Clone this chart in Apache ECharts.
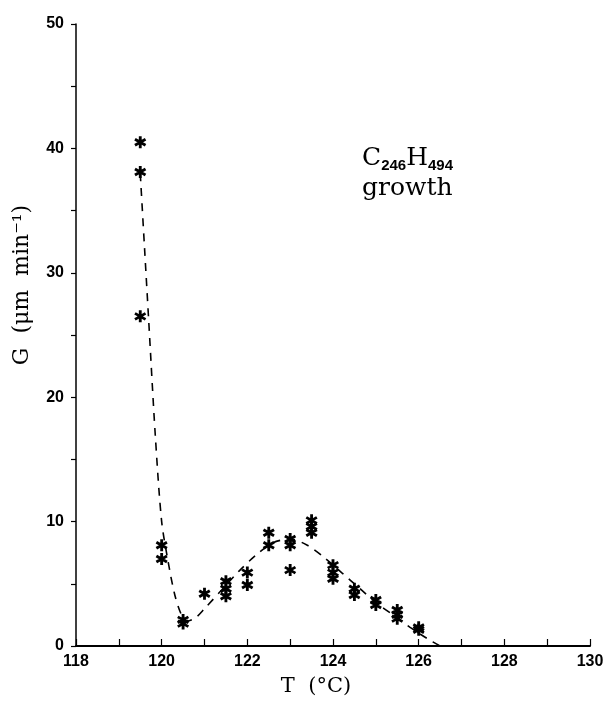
<!DOCTYPE html>
<html>
<head>
<meta charset="utf-8">
<script src="https://cdn.jsdelivr.net/npm/echarts@6/dist/echarts.min.js"></script>
<style>
html,body{margin:0;padding:0;background:#fff;}
#chart{width:607px;height:702px;}
</style>
</head>
<body>
<div id="chart"></div>
<script>
// Measured points (T in °C, G in µm/min)
var pointT = [119.5, 119.5, 119.5, 120, 120, 120.5, 120.5, 121, 121.5, 121.5, 121.5, 122, 122, 122.5, 122.5, 123, 123, 123, 123.5, 123.5, 123.5, 124, 124, 124, 124.5, 124.5, 125, 125, 125.5, 125.5, 125.5, 126, 126];
var pointG = [40.5, 38.1, 26.5, 8.1, 7.0, 2.1, 1.8, 4.2, 5.2, 4.6, 4.0, 5.9, 4.9, 9.1, 8.1, 8.6, 8.1, 6.1, 10.1, 9.6, 9.1, 6.5, 5.9, 5.4, 4.6, 4.1, 3.7, 3.3, 2.9, 2.5, 2.2, 1.5, 1.3];

// Dashed guide curve
var curveT = [119.5, 119.6, 119.7, 119.85, 120.0, 120.15, 120.3, 120.45, 120.6, 120.8, 121.0, 121.4, 121.8, 122.2, 122.6, 123.0, 123.4, 123.8, 124.2, 124.6, 125.0, 125.4, 125.8, 126.2, 126.5];
var curveG = [38, 32, 26, 17, 10, 6.8, 4.2, 2.6, 2.0, 2.3, 3.0, 4.5, 6.0, 7.3, 8.3, 8.6, 8.1, 7.1, 5.9, 4.7, 3.5, 2.5, 1.5, 0.6, 0];

var xTicks = {min: 118, max: 130, step: 1};
var yTicks = {min: 0, max: 50, step: 5};

var asterisk = 'path://M-1.4,-6 L1.4,-6 L1.4,6 L-1.4,6 Z ' +
  'M4.496,4.212 L-5.896,-1.788 L-4.496,-4.212 L5.896,1.788 Z ' +
  'M5.896,-1.788 L-4.496,4.212 L-5.896,1.788 L4.496,-4.212 Z';

var scatterData = pointT.map(function (t, i) { return [t, pointG[i]]; });
var curveData = curveT.map(function (t, i) { return [t, curveG[i]]; });

var chart = echarts.init(document.getElementById('chart'));
var labelFont = {color: '#000', fontFamily: 'Liberation Sans', fontWeight: 'bold', fontSize: 16};
chart.setOption({
  animation: false,
  backgroundColor: '#fff',
  grid: {left: 76, right: 17, top: 24, bottom: 47, containLabel: false},
  xAxis: {
    type: 'value', min: xTicks.min, max: xTicks.max, interval: xTicks.step,
    name: 'T  (°C)', nameLocation: 'middle', nameGap: 30,
    nameTextStyle: {fontFamily: 'DejaVu Serif', fontSize: 21, color: '#000', padding: [0, 34, 0, 0]},
    axisLine: {show: true, lineStyle: {color: '#000', width: 2}},
    axisTick: {show: true, inside: true, length: 7, lineStyle: {color: '#000', width: 1.2}},
    axisLabel: Object.assign({margin: 8, formatter: function (v) { return v % 2 === 0 ? String(v) : ''; }}, labelFont),
    splitLine: {show: false}
  },
  yAxis: {
    type: 'value', min: yTicks.min, max: yTicks.max, interval: yTicks.step,
    name: 'G  (μm  min⁻¹)', nameLocation: 'middle', nameGap: 43,
    nameTextStyle: {fontFamily: 'DejaVu Serif', fontSize: 22, color: '#000', padding: [0, 0, 0, 100]},
    axisLine: {show: true, lineStyle: {color: '#000', width: 1.5}},
    axisTick: {show: true, inside: false, length: 5, lineStyle: {color: '#000', width: 1.2}},
    axisLabel: Object.assign({margin: 12, formatter: function (v) { return v % 10 === 0 ? String(v) : ''; }}, labelFont),
    splitLine: {show: false}
  },
  graphic: [{
    type: 'text', left: 362, top: 144,
    style: {
      text: '{m|C}{s|246}{m|H}{s|494}\n{m|growth}',
      rich: {
        m: {fontFamily: 'DejaVu Serif', fontSize: 25, fill: '#000', lineHeight: 30},
        s: {fontFamily: 'Liberation Sans', fontWeight: 'bold', fontSize: 15, fill: '#000', lineHeight: 30, padding: [14, 0, 0, 0]}
      }
    }
  }],
  series: [{
    type: 'line', data: curveData, smooth: 0.3, symbol: 'none',
    lineStyle: {color: '#000', width: 1.6, type: [8, 7]}, z: 1
  }, {
    type: 'scatter', data: scatterData, symbol: asterisk, symbolSize: [12, 12],
    itemStyle: {color: '#000', opacity: 1}, z: 2
  }]
});
</script>
</body>
</html>
